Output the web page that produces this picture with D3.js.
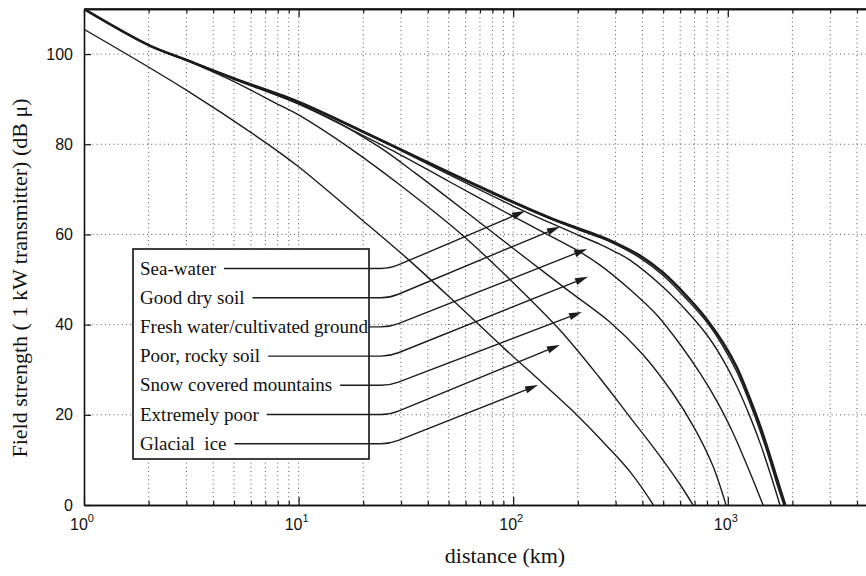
<!DOCTYPE html>
<html>
<head>
<meta charset="utf-8">
<script src="https://cdn.jsdelivr.net/npm/d3@7"></script>
<style>
  body { margin: 0; background: #fff; }
  svg { display: block; }
  .legend-text { white-space: pre; }
</style>
</head>
<body>
<svg id="chart" width="866" height="576"></svg>
<script>
// Ground-wave field strength vs distance, 1 kW transmitter, by ground type.
// Each series: [distance km, field strength dBµ]
const seaWater      = [[1,110],[2,102],[3,98.7],[5,94.6],[10,89.4],[20,82.8],[30,78.8],[50,73.8],[100,67.2],[150,63.6],[200,61.4],[254,59.6],[300,58.1],[390,55.3],[500,51.5],[653,46],[800,41.1],[950,36],[1100,30.6],[1269,23.5],[1420,17.3],[1574,10.8],[1700,5.6],[1850,0]];
const goodDrySoil   = [[1,110],[2,102],[3,98.7],[5,94.6],[10,89.4],[20,82.8],[30,78.8],[50,73.7],[100,67],[150,63.4],[200,61.1],[254,59.3],[300,57.8],[390,54.8],[500,50.9],[653,45.3],[800,40.5],[950,35.2],[1100,29.6],[1269,22.5],[1420,16.2],[1574,9.7],[1700,4.4],[1825,0]];
const freshWater    = [[1,110],[2,102],[3,98.7],[5,94.6],[10,89.3],[20,82.6],[30,78.6],[50,73.3],[100,66.3],[150,62.5],[200,59.9],[254,57.8],[300,56.1],[350,54.3],[500,48.3],[653,42.7],[800,37.7],[950,32.2],[1100,26.4],[1269,19.6],[1420,13.5],[1574,7.1],[1750,0]];
const poorRocky     = [[1,110],[2,102],[3,98.7],[5,94.4],[10,88.9],[20,81.9],[30,77.6],[50,71.8],[100,64],[150,59.6],[200,56.4],[254,53.2],[350,47.8],[466,42.2],[600,35.6],[750,28.9],[900,22.6],[1050,16.3],[1200,10],[1330,4.8],[1460,0]];
const snowMountains = [[1,110],[2,102],[3,98.7],[5,94.5],[10,89],[15,85],[20,81.6],[25,78.7],[35,73.6],[50,68],[80,60.5],[120,54],[180,47.6],[282,40.6],[400,33.5],[550,25],[700,17],[850,8.8],[981,0]];
const extremelyPoor = [[1,110],[2,102],[3,98.6],[5,93.9],[8.2,88.6],[10,86.5],[18,78.6],[30,70.8],[57.5,60],[100,49.3],[165,38.8],[250,28.5],[350,19.5],[480,11],[598,4.6],[689,0]];
const glacialIce    = [[1,105.5],[3,92],[7.1,80.2],[10,75],[20,63],[32,54.7],[50,46.3],[90,34.9],[138,26.9],[187,21.1],[273,13.1],[350,7.4],[450,0]];

const labels = ["Sea-water", "Good dry soil", "Fresh water/cultivated ground", "Poor, rocky soil",
                "Snow covered mountains", "Extremely poor", "Glacial  ice"];
const seriesList = [seaWater, goodDrySoil, freshWater, poorRocky, snowMountains, extremelyPoor, glacialIce];
// where each legend arrow points: [distance km, dBµ]
const arrowTips = [[113.5,65.2],[165,61.7],[221,56.8],[223,50.6],[209,42.8],[165,35.5],[130.5,26.6]];

const yTicks = [0, 20, 40, 60, 80, 100];
const xMajor = [1, 10, 100, 1000];
const xExponents = ["0", "1", "2", "3"];

const W = 866, H = 576;
const plotLeft = 84, plotTop = 9, plotBottom = 505, decade = 214.6;
const svg = d3.select("#chart");

const x = d3.scaleLog().domain([1, 1e4]).range([plotLeft, plotLeft + 4 * decade]);
const y = d3.scaleLinear().domain([0, 110]).range([plotBottom, plotTop]);

const xMinor = [];
for (let k = 0; k < 4; k++) for (let m = 2; m <= 9; m++) xMinor.push(m * Math.pow(10, k));

svg.append("defs").append("clipPath").attr("id", "plot")
  .append("rect").attr("x", plotLeft).attr("y", plotTop).attr("width", W - plotLeft).attr("height", plotBottom - plotTop);

// dotted grid
const grid = svg.append("g").attr("stroke", "#555").attr("stroke-width", 1)
  .attr("stroke-dasharray", "1,3.2").attr("fill", "none");
grid.selectAll("line.v").data(xMinor.concat([10, 100, 1000])).join("line")
  .attr("x1", d => x(d)).attr("x2", d => x(d)).attr("y1", plotTop).attr("y2", plotBottom);
grid.selectAll("line.h").data(yTicks.filter(d => d > 0)).join("line")
  .attr("x1", plotLeft).attr("x2", W).attr("y1", d => y(d)).attr("y2", d => y(d));

// axes
const axisFont = "'Liberation Sans', Arial, sans-serif";
const xb = svg.append("g").attr("transform", `translate(0,${plotBottom})`)
  .call(d3.axisBottom(x).tickValues(xMinor).tickSizeInner(-4).tickSizeOuter(0).tickFormat(""));
const xbM = svg.append("g").attr("transform", `translate(0,${plotBottom})`)
  .call(d3.axisBottom(x).tickValues(xMajor).tickSizeInner(-8).tickSizeOuter(0).tickFormat(""));
const xt = svg.append("g").attr("transform", `translate(0,${plotTop})`)
  .call(d3.axisTop(x).tickValues(xMinor).tickSizeInner(-4).tickSizeOuter(0).tickFormat(""));
const xtM = svg.append("g").attr("transform", `translate(0,${plotTop})`)
  .call(d3.axisTop(x).tickValues(xMajor).tickSizeInner(-8).tickSizeOuter(0).tickFormat(""));
const yl = svg.append("g").attr("transform", `translate(${plotLeft},0)`)
  .call(d3.axisLeft(y).tickValues(yTicks).tickSizeInner(-7).tickSizeOuter(0).tickPadding(11).tickFormat(d3.format("d")));
[xb, xbM, xt, xtM, yl].forEach(g => {
  g.select(".domain").attr("stroke", "#111").attr("stroke-width", 1.6);
  g.selectAll(".tick line").attr("stroke", "#111").attr("stroke-width", 1.2);
});
yl.selectAll(".tick text").attr("font-family", axisFont).attr("font-size", 16).attr("fill", "#111");

// decade labels 10^k
const xl = svg.append("g").attr("font-family", axisFont).attr("fill", "#111");
xMajor.forEach((v, i) => {
  const t = xl.append("text").attr("x", x(v) - 2).attr("y", plotBottom + 25)
    .attr("text-anchor", "middle").attr("font-size", 16);
  t.append("tspan").text("10");
  t.append("tspan").attr("font-size", 11).attr("dy", -8).text(xExponents[i]);
});

// frame top line reaching the right edge
svg.append("line").attr("x1", plotLeft).attr("x2", W).attr("y1", plotTop).attr("y2", plotTop)
  .attr("stroke", "#111").attr("stroke-width", 1.6);

// curves
const line = d3.line().x(d => x(d[0])).y(d => y(d[1])).curve(d3.curveCatmullRom.alpha(0.5));
svg.append("g").attr("clip-path", "url(#plot)").selectAll("path").data(seriesList).join("path")
  .attr("d", line).attr("fill", "none").attr("stroke", "#1c1c1c")
  .attr("stroke-width", (d, i) => i === 0 ? 2.6 : 1.4).attr("stroke-linejoin", "round");

// legend box
const serif = "'Liberation Serif', 'Times New Roman', serif";
const box = { x: 133, y: 249, w: 236, h: 210 };
svg.append("rect").attr("x", box.x).attr("y", box.y).attr("width", box.w).attr("height", box.h)
  .attr("fill", "#fff").attr("stroke", "#111").attr("stroke-width", 1.6);

const lg = svg.append("g");
const arrowLen = 13, arrowHalf = 3.6, cornerX = 390;
labels.forEach((lab, i) => {
  const ry = 268.5 + i * 29.2;
  const txt = lg.append("text").attr("class", "legend-text").attr("x", 140).attr("y", ry + 6)
    .attr("font-family", serif).attr("font-size", 19).attr("fill", "#111").text(lab);
  const x0 = 140 + txt.node().getComputedTextLength() + (i === 2 ? 1 : 8);
  const tx = x(arrowTips[i][0]), ty = y(arrowTips[i][1]);
  const dx = tx - cornerX, dy = ty - ry, len = Math.hypot(dx, dy);
  const ux = dx / len, uy = dy / len;
  const bx = tx - ux * arrowLen, by = ty - uy * arrowLen;
  lg.append("path")
    .attr("d", `M${x0},${ry} L${cornerX - 9},${ry} Q${cornerX},${ry} ${cornerX + ux * 9},${ry + uy * 9} L${bx},${by}`)
    .attr("fill", "none").attr("stroke", "#1c1c1c").attr("stroke-width", 1.4);
  lg.append("path")
    .attr("d", `M${tx},${ty} L${bx - uy * arrowHalf},${by + ux * arrowHalf} L${bx + uy * arrowHalf},${by - ux * arrowHalf} Z`)
    .attr("fill", "#1c1c1c");
});

// axis titles
svg.append("text").attr("transform", `translate(27,278) rotate(-90)`).attr("text-anchor", "middle")
  .attr("font-family", serif).attr("font-size", 22).attr("fill", "#111")
  .text("Field strength ( 1 kW transmitter) (dB \u03bc)");
svg.append("text").attr("x", 505).attr("y", 563).attr("text-anchor", "middle")
  .attr("font-family", serif).attr("font-size", 22).attr("fill", "#111")
  .text("distance (km)");
</script>
</body>
</html>
